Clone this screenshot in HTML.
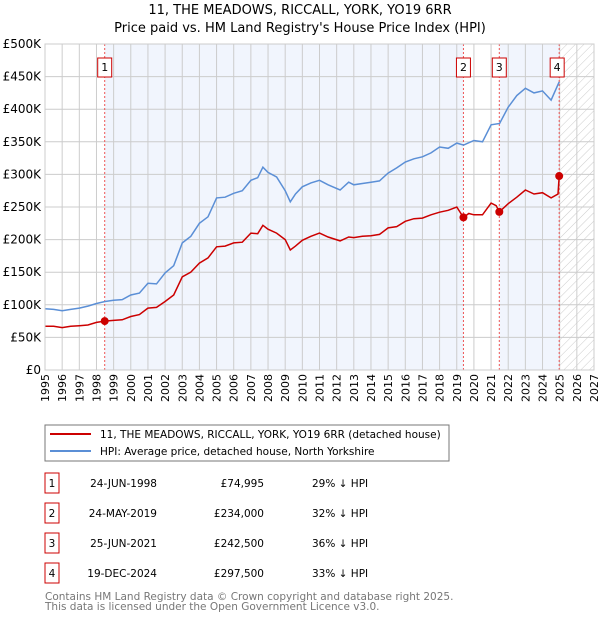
<!DOCTYPE html>
<html><head><meta charset="utf-8"><style>
body{margin:0;background:#fff;font-family:"Liberation Sans","DejaVu Sans",sans-serif;}
svg text{font-family:"DejaVu Sans","Liberation Sans",sans-serif;}
</style></head><body>
<svg id="c" width="600" height="620" xmlns="http://www.w3.org/2000/svg">
<defs><pattern id="hatch" width="6" height="6" patternUnits="userSpaceOnUse" patternTransform="rotate(45)"><line x1="0" y1="0" x2="0" y2="6" stroke="#ccc" stroke-width="1"/></pattern></defs>
<text x="300" y="14" text-anchor="middle" font-size="13">11, THE MEADOWS, RICCALL, YORK, YO19 6RR</text>
<text x="300" y="32" text-anchor="middle" font-size="13">Price paid vs. HM Land Registry's House Price Index (HPI)</text>
<g id="plot"></g>
<rect x="45" y="425" width="404" height="36" fill="#fff" stroke="#777"/>
<line x1="50" y1="434" x2="91" y2="434" stroke="#cc0000" stroke-width="2"/>
<text x="100" y="438" font-size="10.5">11, THE MEADOWS, RICCALL, YORK, YO19 6RR (detached house)</text>
<line x1="50" y1="451" x2="91" y2="451" stroke="#5b8fd6" stroke-width="2"/>
<text x="100" y="455" font-size="10.5">HPI: Average price, detached house, North Yorkshire</text>
<g id="table" font-size="10.5"></g>
<text x="45" y="600" font-size="10.5" fill="#777">Contains HM Land Registry data © Crown copyright and database right 2025.</text>
<text x="45" y="610" font-size="10.5" fill="#777">This data is licensed under the Open Government Licence v3.0.</text>
</svg>
<script>
const hpiT=[1995,1995.5,1996,1996.5,1997,1997.5,1998,1998.5,1999,1999.5,2000,2000.5,2001,2001.5,2002,2002.5,2003,2003.5,2004,2004.5,2005,2005.5,2006,2006.5,2007,2007.4,2007.7,2008,2008.5,2009,2009.3,2009.6,2010,2010.5,2011,2011.5,2012.2,2012.7,2013,2013.5,2014,2014.5,2015,2015.5,2016,2016.5,2017,2017.5,2018,2018.5,2019,2019.4,2020,2020.5,2021,2021.5,2022,2022.5,2023,2023.5,2024,2024.5,2024.97];
const hpiV=[94,93,91,93,95,98,102,105,107,108,115,118,133,132,149,160,195,205,225,235,264,265,271,275,291,295,311,303,296,275,258,270,281,287,291,284,276,288,284,286,288,290,302,310,319,324,327,333,342,340,348,345,352,350,376,378,403,421,432,425,428,414,442];
const redT=[1995,1995.5,1996,1996.5,1997,1997.5,1998,1998.48,1999,1999.5,2000,2000.5,2001,2001.5,2002,2002.5,2003,2003.5,2004,2004.5,2005,2005.5,2006,2006.5,2007,2007.4,2007.7,2008,2008.5,2009,2009.3,2009.6,2010,2010.5,2011,2011.5,2012.2,2012.7,2013,2013.5,2014,2014.5,2015,2015.5,2016,2016.5,2017,2017.5,2018,2018.5,2019,2019.39,2019.7,2020,2020.5,2021,2021.3,2021.48,2022,2022.5,2023,2023.5,2024,2024.5,2024.9,2024.97];
const redV=[67,67,65,67,68,69,73,75,76,77,82,85,95,96,105,115,143,150,164,172,189,190,195,196,210,209,222,216,210,200,184,190,199,205,210,204,198,204,203,205,206,208,218,220,228,232,233,238,242,245,250,234,240,238,238,256,252,242.5,255,265,276,270,272,264,270,297.5];
const saleT=[1998.48,2019.39,2021.48,2024.97];
const saleV=[74.995,234,242.5,297.5];
const saleLabels=["1","2","3","4"];
const saleDates=["24-JUN-1998","24-MAY-2019","25-JUN-2021","19-DEC-2024"];
const salePrices=["£74,995","£234,000","£242,500","£297,500"];
const saleDiff=["29% ↓ HPI","32% ↓ HPI","36% ↓ HPI","33% ↓ HPI"];
const yTicks=[0,50,100,150,200,250,300,350,400,450,500];
const yTickLabels=["£0","£50K","£100K","£150K","£200K","£250K","£300K","£350K","£400K","£450K","£500K"];
const xYears=[1995,1996,1997,1998,1999,2000,2001,2002,2003,2004,2005,2006,2007,2008,2009,2010,2011,2012,2013,2014,2015,2016,2017,2018,2019,2020,2021,2022,2023,2024,2025,2026,2027];
const X0=45,X1=594,Y0=370,Y1=44,T0=1995,T1=2027,VMAX=500;
const xs=t=>X0+(t-T0)/(T1-T0)*(X1-X0);
const ys=v=>Y0-v/VMAX*(Y0-Y1);
const NS="http://www.w3.org/2000/svg";
const plot=document.getElementById('plot');
function mk(tag,attrs,parent){const e=document.createElementNS(NS,tag);for(const k in attrs)e.setAttribute(k,attrs[k]);(parent||plot).appendChild(e);return e;}
let e;
e=mk('rect',{x:X0,y:Y1,width:X1-X0,height:Y0-Y1,fill:'#fff'});


[[0,1],[2,3]].forEach(p=>{
 e=mk('rect',{x:xs(saleT[p[0]]),y:Y1,width:xs(saleT[p[1]])-xs(saleT[p[0]]),height:Y0-Y1,fill:'#eef3fc',opacity:0.8});
 
 
});
e=mk('rect',{x:xs(2025),y:Y1,width:X1-xs(2025),height:Y0-Y1,fill:'url(#hatch)'});


xYears.forEach(y=>{
 e=mk('line',{x1:xs(y),x2:xs(y),y1:Y1,y2:Y0,stroke:'#ccc','stroke-width':1});
 
 
 e=mk('text',{x:0,y:0,'font-size':11,'text-anchor':'end',transform:`translate(${xs(y)+4},${Y0+4}) rotate(-90)`});
 e.textContent=y;
 
 
});
yTicks.forEach((v,i)=>{
 e=mk('line',{x1:X0,x2:X1,y1:ys(v),y2:ys(v),stroke:'#ccc','stroke-width':1});
 
 
 e=mk('text',{x:X0-4,y:ys(v)+4,'font-size':12,'text-anchor':'end'});
 e.textContent=yTickLabels[i];
 
 
});
saleT.forEach((t,i)=>{
 e=mk('line',{x1:xs(t),x2:xs(t),y1:Y1,y2:Y0,stroke:'#ee5555','stroke-width':1,'stroke-dasharray':'2,2'});
 
 
});
e=mk('path',{d:hpiT.map((t,i)=>(i?'L':'M')+xs(t).toFixed(1)+','+ys(hpiV[i]).toFixed(1)).join(''),fill:'none',stroke:'#5b8fd6','stroke-width':1.5});


e=mk('path',{d:redT.map((t,i)=>(i?'L':'M')+xs(t).toFixed(1)+','+ys(redV[i]).toFixed(1)).join(''),fill:'none',stroke:'#cc0000','stroke-width':1.5});


saleT.forEach((t,i)=>{
 e=mk('circle',{cx:xs(t),cy:ys(saleV[i]),r:4,fill:'#cc0000'});
 
 
 const bx=xs(t)-7-(i===3?2:0);
 e=mk('rect',{x:bx,y:58,width:14,height:19,fill:'#fff',stroke:'#cc0000'});
 
 
 e=mk('text',{x:bx+7,y:71,'font-size':11,'text-anchor':'middle'});
 e.textContent=saleLabels[i];
 
 
});
e=mk('rect',{x:X0,y:Y1,width:X1-X0,height:Y0-Y1,fill:'none',stroke:'#ccc'});


const tb=document.getElementById('table');
saleLabels.forEach((l,i)=>{
 const y=483+i*30;
 e=mk('rect',{x:45,y:y-10,width:14,height:20,fill:'#fff',stroke:'#cc0000'},tb);
 
 
 e=mk('text',{x:52,y:y+4,'text-anchor':'middle'},tb);e.textContent=l;
 
 
 e=mk('text',{x:157,y:y+4,'text-anchor':'end'},tb);e.textContent=saleDates[i];
 
 
 e=mk('text',{x:264,y:y+4,'text-anchor':'end'},tb);e.textContent=salePrices[i];
 
 
 e=mk('text',{x:312,y:y+4},tb);e.textContent=saleDiff[i];
 
 
});
</script>
</body></html>
